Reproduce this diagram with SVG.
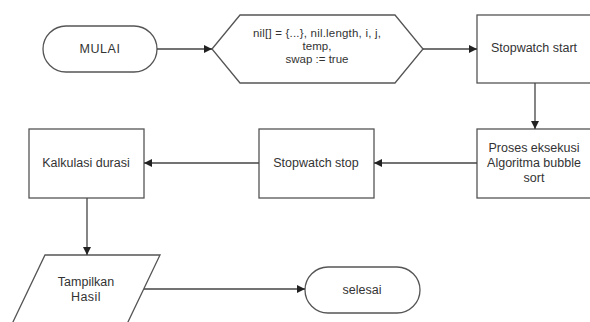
<svg xmlns="http://www.w3.org/2000/svg" width="590" height="322" viewBox="0 0 590 322">
  <defs>
    <marker id="arrow" viewBox="0 0 10 10" refX="10" refY="5" markerWidth="8" markerHeight="8" markerUnits="userSpaceOnUse" orient="auto">
      <path d="M0,0 L10,5 L0,10 z" fill="#222"/>
    </marker>
    <style>
      .shape { fill: #fff; stroke: #555; stroke-width: 1.3; }
      .label { font-family: "Liberation Sans", Arial, sans-serif; font-size: 12.5px; fill: #333; text-anchor: middle; }
      .small { font-size: 11.5px; }
      .edge { fill: none; stroke: #444; stroke-width: 1.3; marker-end: url(#arrow); }
    </style>
  </defs>
  <rect width="590" height="322" fill="#fff"/>

  <g id="mulai">
    <rect class="shape" x="43" y="26" width="114" height="46" rx="23" ry="23"/>
    <text class="label" x="100" y="53" letter-spacing="0.6">MULAI</text>
  </g>

  <g id="inisialisasi">
    <polygon class="shape" points="212,49 240,15 395,15 423,49 395,83 240,83"/>
    <text class="label small" x="317" y="37" letter-spacing="0.2">nil[] = {...}, nil.length, i, j,</text>
    <text class="label small" x="317" y="50">temp,</text>
    <text class="label small" x="317" y="63">swap := true</text>
  </g>

  <g id="stopwatch-start">
    <rect class="shape" x="477" y="15" width="116" height="68"/>
    <text class="label" x="534" y="52">Stopwatch start</text>
  </g>

  <g id="proses">
    <rect class="shape" x="477" y="129" width="116" height="69"/>
    <text class="label" x="534" y="152">Proses eksekusi</text>
    <text class="label" x="534" y="167">Algoritma bubble</text>
    <text class="label" x="534" y="182">sort</text>
  </g>

  <g id="stopwatch-stop">
    <rect class="shape" x="259" y="129" width="115" height="69"/>
    <text class="label" x="316" y="167">Stopwatch stop</text>
  </g>

  <g id="kalkulasi">
    <rect class="shape" x="29" y="129" width="115" height="69"/>
    <text class="label" x="86" y="167">Kalkulasi durasi</text>
  </g>

  <g id="tampilkan">
    <polygon class="shape" points="45,255 160,255 127,324 12,324"/>
    <text class="label" x="86" y="286">Tampilkan</text>
    <text class="label" x="86" y="301" letter-spacing="0.4">Hasil</text>
  </g>

  <g id="selesai">
    <rect class="shape" x="305" y="267" width="115" height="46" rx="23" ry="23"/>
    <text class="label" x="362" y="294">selesai</text>
  </g>

  <g id="connectors">
    <line class="edge" x1="157" y1="49" x2="212" y2="49"/>
    <line class="edge" x1="423" y1="49" x2="477" y2="49"/>
    <line class="edge" x1="535" y1="83" x2="535" y2="129"/>
    <line class="edge" x1="477" y1="163" x2="374" y2="163"/>
    <line class="edge" x1="259" y1="163" x2="144" y2="163"/>
    <line class="edge" x1="87" y1="198" x2="87" y2="255"/>
    <line class="edge" x1="144" y1="289" x2="305" y2="289"/>
  </g>
</svg>
